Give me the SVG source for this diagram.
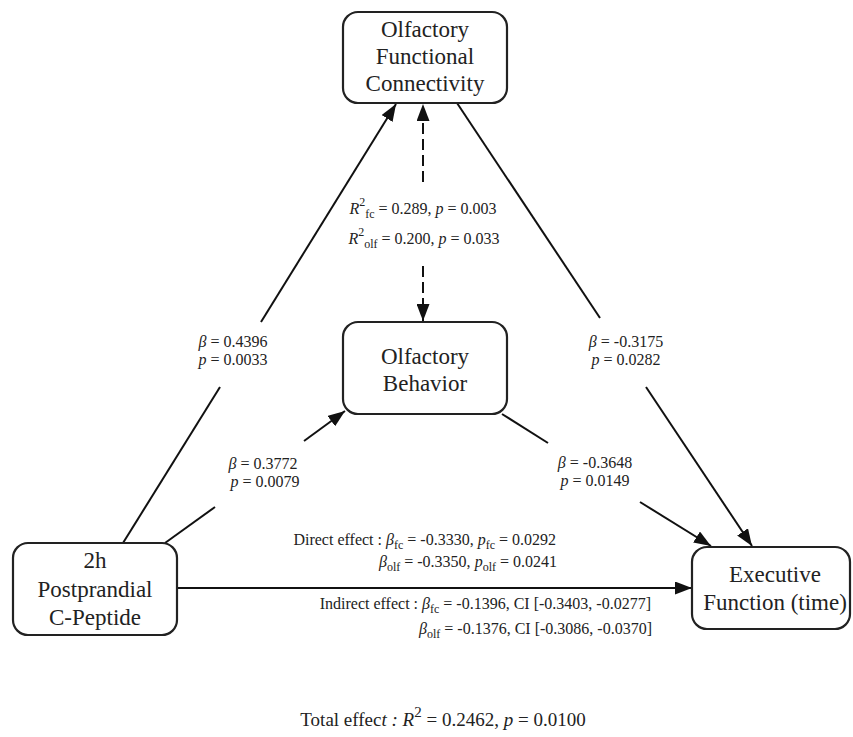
<svg xmlns="http://www.w3.org/2000/svg" width="853" height="737" viewBox="0 0 853 737">
<style>
.box{fill:#fff;stroke:#222;stroke-width:2.2}
.nt{font-family:"Liberation Serif","Times New Roman",serif;font-size:23px;fill:#222;text-anchor:middle}
.lb{font-family:"Liberation Serif","Times New Roman",serif;font-size:16px;fill:#222;text-anchor:middle}
.le{font-family:"Liberation Serif","Times New Roman",serif;font-size:16px;fill:#222;text-anchor:end}
.tot{font-family:"Liberation Serif","Times New Roman",serif;font-size:19px;fill:#222;text-anchor:middle}
.i{font-style:italic}
.s{font-size:12px}
.c{stroke:#111;stroke-width:2;fill:none}
.d{stroke-dasharray:11 5}
</style>
<defs>
<marker id="arr" markerUnits="userSpaceOnUse" markerWidth="17" markerHeight="13" refX="17" refY="6.5" orient="auto">
<path d="M0,0 L17,6.5 L0,13 z" fill="#111"/>
</marker>
</defs>
<rect width="853" height="737" fill="#fff"/>
<g id="connectors">
<line class="c" x1="123" y1="543" x2="220" y2="387"/>
<line class="c" x1="261" y1="322" x2="396" y2="104" marker-end="url(#arr)"/>
<line class="c" x1="457" y1="103" x2="600" y2="318"/>
<line class="c" x1="646" y1="387" x2="752" y2="546" marker-end="url(#arr)"/>
<line class="c" x1="165" y1="543" x2="215" y2="507"/>
<line class="c" x1="304" y1="441" x2="345" y2="411" marker-end="url(#arr)"/>
<line class="c" x1="502" y1="414" x2="548" y2="443"/>
<line class="c" x1="640" y1="502" x2="711" y2="546" marker-end="url(#arr)"/>
<line class="c" x1="177" y1="588" x2="692" y2="588" marker-end="url(#arr)"/>
<line class="c d" x1="423" y1="182" x2="423" y2="104" marker-end="url(#arr)"/>
<line class="c d" x1="423" y1="266" x2="423" y2="321" marker-end="url(#arr)"/>
</g>
<g id="node-ofc">
<rect class="box" x="343" y="12" width="164" height="91" rx="15"/>
<text class="nt" x="425" y="37">Olfactory</text>
<text class="nt" x="425" y="64">Functional</text>
<text class="nt" x="425" y="91">Connectivity</text>
</g>
<g id="node-ob">
<rect class="box" x="343" y="322" width="164" height="92" rx="15"/>
<text class="nt" x="425" y="364">Olfactory</text>
<text class="nt" x="425" y="391">Behavior</text>
</g>
<g id="node-cp">
<rect class="box" x="13" y="543" width="164" height="92" rx="15"/>
<text class="nt" x="95" y="568">2h</text>
<text class="nt" x="95" y="597">Postprandial</text>
<text class="nt" x="95" y="625">C-Peptide</text>
</g>
<g id="node-ef">
<rect class="box" x="692" y="547" width="158" height="82" rx="15"/>
<text class="nt" x="775" y="582">Executive</text>
<text class="nt" x="775" y="610">Function (time)</text>
</g>
<g id="labels">
<text class="lb" x="233" y="347"><tspan class="i">β</tspan> = 0.4396</text>
<text class="lb" x="233" y="365"><tspan class="i">p</tspan> = 0.0033</text>
<text class="lb" x="263" y="469"><tspan class="i">β</tspan> = 0.3772</text>
<text class="lb" x="265" y="487"><tspan class="i">p</tspan> = 0.0079</text>
<text class="lb" x="626" y="347"><tspan class="i">β</tspan> = -0.3175</text>
<text class="lb" x="626" y="365"><tspan class="i">p</tspan> = 0.0282</text>
<text class="lb" x="595" y="468"><tspan class="i">β</tspan> = -0.3648</text>
<text class="lb" x="595" y="486"><tspan class="i">p</tspan> = 0.0149</text>
<text class="lb" x="423" y="214"><tspan class="i">R</tspan><tspan class="s" dy="-8">2</tspan><tspan class="s" dy="12">fc</tspan><tspan dy="-4"> = 0.289, </tspan><tspan class="i">p</tspan> = 0.003</text>
<text class="lb" x="424" y="244"><tspan class="i">R</tspan><tspan class="s" dy="-8">2</tspan><tspan class="s" dy="12">olf</tspan><tspan dy="-4"> = 0.200, </tspan><tspan class="i">p</tspan> = 0.033</text>
<text class="le" x="556" y="545">Direct effect : <tspan class="i">β</tspan><tspan class="s" dy="4">fc</tspan><tspan dy="-4"> = -0.3330, </tspan><tspan class="i">p</tspan><tspan class="s" dy="4">fc</tspan><tspan dy="-4"> = 0.0292</tspan></text>
<text class="le" x="557" y="567"><tspan class="i">β</tspan><tspan class="s" dy="4">olf</tspan><tspan dy="-4"> = -0.3350, </tspan><tspan class="i">p</tspan><tspan class="s" dy="4">olf</tspan><tspan dy="-4"> = 0.0241</tspan></text>
<text class="le" x="651" y="609">Indirect effect : <tspan class="i">β</tspan><tspan class="s" dy="4">fc</tspan><tspan dy="-4"> = -0.1396, CI [-0.3403, -0.0277]</tspan></text>
<text class="le" x="652" y="634"><tspan class="i">β</tspan><tspan class="s" dy="4">olf</tspan><tspan dy="-4"> = -0.1376, CI [-0.3086, -0.0370]</tspan></text>
<text class="tot" x="443" y="726">Total effec<tspan class="i">t : R</tspan><tspan font-size="15" dy="-9">2</tspan><tspan dy="9"> = 0.2462, </tspan><tspan class="i">p</tspan> = 0.0100</text>
</g>
</svg>
